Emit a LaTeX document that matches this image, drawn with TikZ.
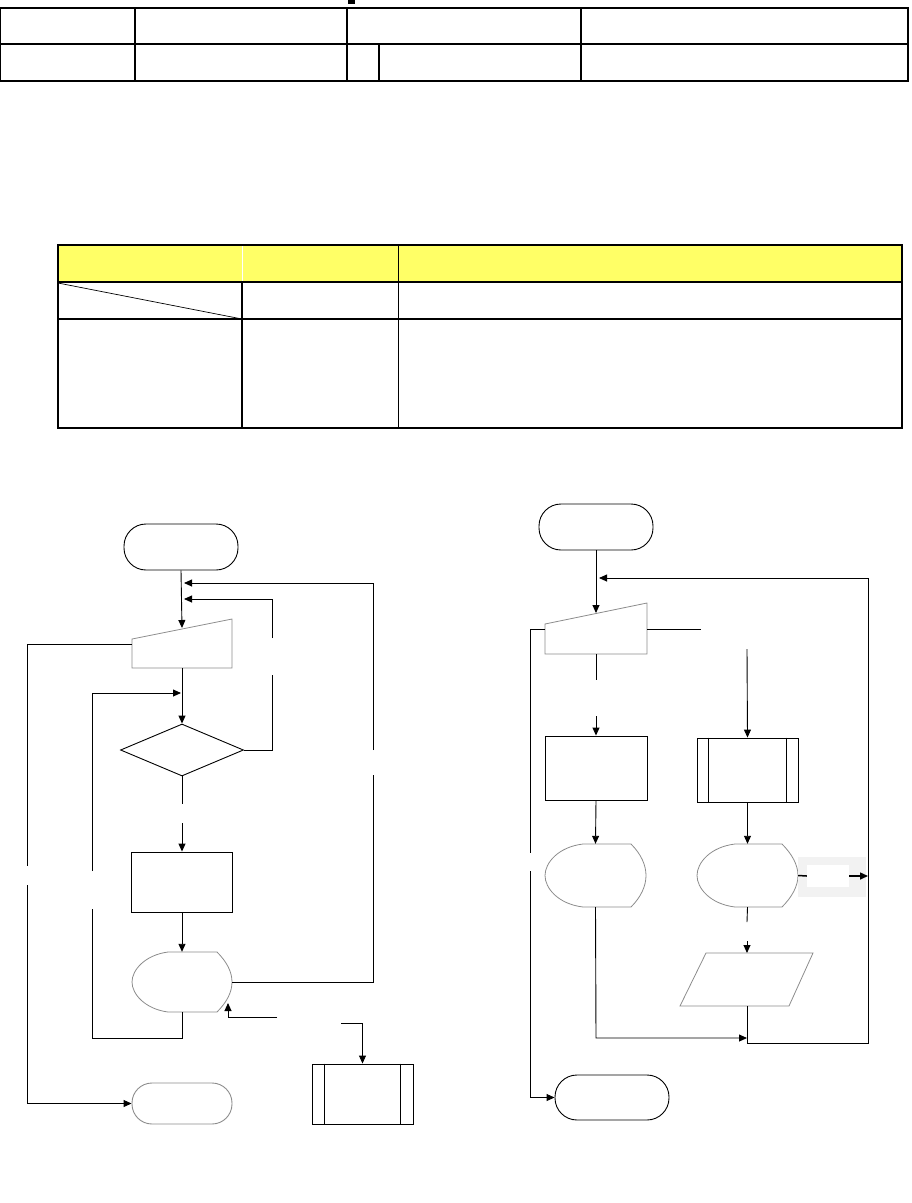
\documentclass[tikz,border=0pt]{standalone}
\usetikzlibrary{arrows.meta,shapes.geometric,calc}
\definecolor{hdr}{HTML}{FFFF66}
\definecolor{gline}{HTML}{8C8C8C}
\definecolor{lblbg}{HTML}{F2F2F2}
\begin{document}
\begin{tikzpicture}[x=1pt,y=-1pt,
  tbl/.style={line width=1.4pt},
  thin/.style={line width=0.7pt},
  conn/.style={line width=0.9pt},
  arr/.style={conn,-{Triangle[length=8pt,width=7pt]}},
  box/.style={draw,line width=0.9pt,inner sep=0pt,rectangle},
  term/.style={box,rounded corners=22pt},
  gterm/.style={term,draw=gline},
  ghost/.style={draw=none,inner sep=0pt,rectangle},
  gshape/.style={draw=gline,line width=0.8pt},
  dia/.style={draw,line width=0.9pt,inner sep=0pt,shape=diamond}
]
\useasboundingbox (0,0) rectangle (911,1203);

% ---------- top table ----------
\fill (348,0) rectangle (355,4);
\draw[tbl] (0,8) rectangle (908,81);
\draw[tbl] (0,44) -- (908,44);
\foreach \x in {135,347,581} \draw[tbl] (\x,8) -- (\x,81);
\draw[tbl] (379,44) -- (379,81);

% ---------- yellow table ----------
\fill[hdr] (58,245) rectangle (902,282);
\draw[white,thin] (242,246) -- (242,281);
\draw[tbl] (58,245) rectangle (902,428);
\draw[tbl] (58,282) -- (902,282);
\draw[tbl] (58,319) -- (902,319);
\draw[tbl] (242,282) -- (242,428);
\draw[thin] (398,245) -- (398,428);
\draw[thin] (58,283) -- (242,319);

% ---------- left flowchart ----------
\node[term,minimum width=114pt,minimum height=46pt] (s1) at (181,547) {};
\node[ghost,minimum width=100pt,minimum height=49pt] (m1) at (182,643.5) {};
\draw[gshape] (132,639) -- (232,619) -- (232,668) -- (132,668) -- cycle;
\node[dia,minimum width=123pt,minimum height=52pt] (d1) at (182,750) {};
\node[box,minimum width=101pt,minimum height=60pt] (p1) at (182,882) {};
\node[ghost,minimum width=100pt,minimum height=60pt] (e1) at (182,982) {};
\draw[gshape] (168,952) -- (217,952)
  .. controls (227,962) and (232,972) .. (232,982)
  .. controls (232,992) and (227,1002) .. (217,1012)
  -- (168,1012)
  .. controls (145,1009) and (132,994) .. (132,982)
  .. controls (132,970) and (145,955) .. (168,952) -- cycle;
\node[gterm,minimum width=100pt,minimum height=41pt,rounded corners=20pt] (t1) at (182,1103.5) {};
\node[box,minimum width=101pt,minimum height=60pt] (pp1) at (362.5,1094) {};
\draw[conn] ($(pp1.north west)+(13,0)$) -- ($(pp1.south west)+(13,0)$);
\draw[conn] ($(pp1.north east)+(-13,0)$) -- ($(pp1.south east)+(-13,0)$);

\coordinate (m1top) at (182,628);
\draw[arr] (s1.south) -- (m1top);
\draw[conn] (e1.east) -| (373,775);
\draw[arr] (373,750) |- (184,583);
\draw[conn] (d1.east) -| (272,675);
\draw[arr] (272,638) |- (184,599);
\draw[conn] (132,644) -| (27,866);
\draw[arr] (27,885) |- (t1.west);
\draw[arr] (m1.south) -- (d1.north);
\draw[conn] (e1.south) -- (182,1038) -| (92,909);
\draw[arr] (92,871) |- (181,693);
\draw[conn] (d1.south) -- (182,804);
\draw[arr] (182,823) -- (p1.north);
\draw[arr] (p1.south) -- (e1.north);
\draw[arr] (277,1017) -| (228,1003);
\draw[arr] (341,1023) -| (pp1.north);

% ---------- right flowchart ----------
\node[term,minimum width=114pt,minimum height=46pt] (s2) at (596,527) {};
\node[ghost,minimum width=102pt,minimum height=51pt] (m2) at (596,628.5) {};
\draw[gshape] (545,624) -- (647,603) -- (647,654) -- (545,654) -- cycle;
\node[box,minimum width=102pt,minimum height=64pt] (r2) at (596,768) {};
\node[box,minimum width=101pt,minimum height=64pt] (pp2) at (747.5,770) {};
\draw[conn] ($(pp2.north west)+(12,0)$) -- ($(pp2.south west)+(12,0)$);
\draw[conn] ($(pp2.north east)+(-12,0)$) -- ($(pp2.south east)+(-12,0)$);
\node[ghost,minimum width=101pt,minimum height=63pt] (e2l) at (595.5,875.5) {};
\draw[gshape] (583,844) -- (631,844)
  .. controls (641,854) and (646,865) .. (646,875.5)
  .. controls (646,886) and (641,897) .. (631,907)
  -- (583,907)
  .. controls (558,904) and (545,888) .. (545,875.5)
  .. controls (545,863) and (558,847) .. (583,844) -- cycle;
\node[ghost,minimum width=101pt,minimum height=63pt] (e2r) at (747.5,875.5) {};
\draw[gshape] (735,844) -- (782,844)
  .. controls (792,854) and (798,865) .. (798,875.5)
  .. controls (798,886) and (792,897) .. (782,907)
  -- (735,907)
  .. controls (710,904) and (697,888) .. (697,875.5)
  .. controls (697,863) and (710,847) .. (735,844) -- cycle;
\fill[lblbg] (798,857) rectangle (866,897);
\node[ghost,fill=white,minimum width=42pt,minimum height=22pt] (lb) at (828,876) {};
\node[ghost,minimum width=107pt,minimum height=53pt] (par) at (746.5,979.5) {};
\draw[gshape] (706,953) -- (813,953) -- (789,1006) -- (680,1006) -- cycle;
\node[term,minimum width=114pt,minimum height=45pt] (t2) at (612,1097.5) {};

\draw[arr] (s2.south) -- (596,613);
\draw[arr] (747,1006) -- (747,1043) -| (868,578) -- (599,578);
\draw[conn] (545,629) -| (530,853);
\draw[arr] (530,871) |- (t2.west);
\draw[conn] (647,629) -- (701,629);
\draw[arr] (747,649) -- (pp2.north);
\draw[conn] (596,654) -- (596,680);
\draw[arr] (596,716) -- (r2.north);
\draw[arr] (r2.south) -- (e2l.north);
\draw[arr] (pp2.south) -- (e2r.north);
\draw[line width=1.5pt] (e2r.east) -- (lb.west);
\draw[line width=1.5pt,-{Triangle[length=8pt,width=7pt]}] (lb.east) -- (868,876);
\draw[conn] (e2r.south) -- (747,922);
\draw[arr] (747,941) -- (747,953);
\draw[arr] (e2l.south) -- (596,1038) -- (747,1038);
\end{tikzpicture}
\end{document}
